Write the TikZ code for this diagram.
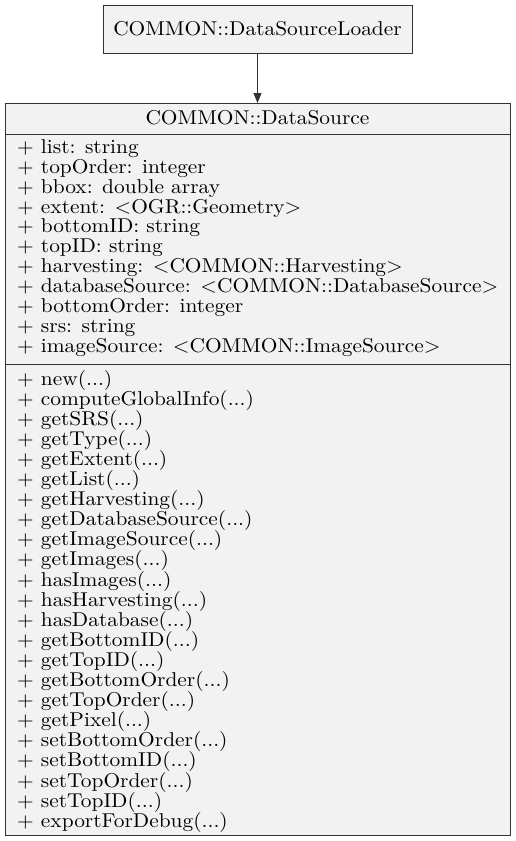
\documentclass[tikz,border=0pt]{standalone}
\usepackage{fontspec}
\setmainfont{lmroman10-regular.otf}[FakeStretch=1.07]
\usetikzlibrary{arrows.meta}
\definecolor{boxfill}{HTML}{F2F2F2}
\definecolor{boxline}{HTML}{333333}
\newcommand\tdots{...}
\newcommand\umlfont{\fontsize{20}{22}\selectfont}
\begin{document}
\begin{tikzpicture}[x=1pt,y=1pt,
  umlbox/.style={draw=boxline,fill=boxfill,line width=1pt},
  member/.style={anchor=base west,inner sep=0pt,font=\umlfont},
  titletext/.style={anchor=base,inner sep=0pt,font=\umlfont}]
\useasboundingbox (0,0) rectangle (516,-841);
% top class
\node[umlbox,minimum width=309,minimum height=48,inner sep=0pt] (loader) at (257.5,-29.5) {};
\node[titletext] (loadertitle) at (257.5,-35) {COMMON::DataSourceLoader};
% main class
\coordinate (mtl) at (5,-103);
\coordinate (mbr) at (510,-835);
\draw[umlbox] (mtl) rectangle (mbr);
\coordinate (s1l) at (5,-134); \coordinate (s1r) at (510,-134);
\coordinate (s2l) at (5,-364); \coordinate (s2r) at (510,-364);
\draw[draw=boxline,line width=1pt] (s1l) -- (s1r);
\draw[draw=boxline,line width=1pt] (s2l) -- (s2r);
\node[titletext] (dstitle) at (257.5,-124) {COMMON::DataSource};
\coordinate (dstop) at (257.5,-103);
\draw[draw=boxline,line width=1pt,-{Triangle[length=10pt,width=8pt]}] (loader.south) -- (dstop);
% attributes
\foreach \t [count=\i from 0] in {%
  {+ list: string},
  {+ topOrder: integer},
  {+ bbox: double array},
  {+ extent: <OGR::Geometry>},
  {+ bottomID: string},
  {+ topID: string},
  {+ harvesting: <COMMON::Harvesting>},
  {+ databaseSource: <COMMON::DatabaseSource>},
  {+ bottomOrder: integer},
  {+ srs: string},
  {+ imageSource: <COMMON::ImageSource>}}
  \node[member] (attr\i) at (17,-153.5-19.85*\i) {\t};
% methods
\foreach \t [count=\i from 0] in {%
  {+ new(\tdots)},
  {+ computeGlobalInfo(\tdots)},
  {+ getSRS(\tdots)},
  {+ getType(\tdots)},
  {+ getExtent(\tdots)},
  {+ getList(\tdots)},
  {+ getHarvesting(\tdots)},
  {+ getDatabaseSource(\tdots)},
  {+ getImageSource(\tdots)},
  {+ getImages(\tdots)},
  {+ hasImages(\tdots)},
  {+ hasHarvesting(\tdots)},
  {+ hasDatabase(\tdots)},
  {+ getBottomID(\tdots)},
  {+ getTopID(\tdots)},
  {+ getBottomOrder(\tdots)},
  {+ getTopOrder(\tdots)},
  {+ getPixel(\tdots)},
  {+ setBottomOrder(\tdots)},
  {+ setBottomID(\tdots)},
  {+ setTopOrder(\tdots)},
  {+ setTopID(\tdots)},
  {+ exportForDebug(\tdots)}}
  \node[member] (meth\i) at (17,-385-20.1*\i) {\t};
\end{tikzpicture}
\end{document}
